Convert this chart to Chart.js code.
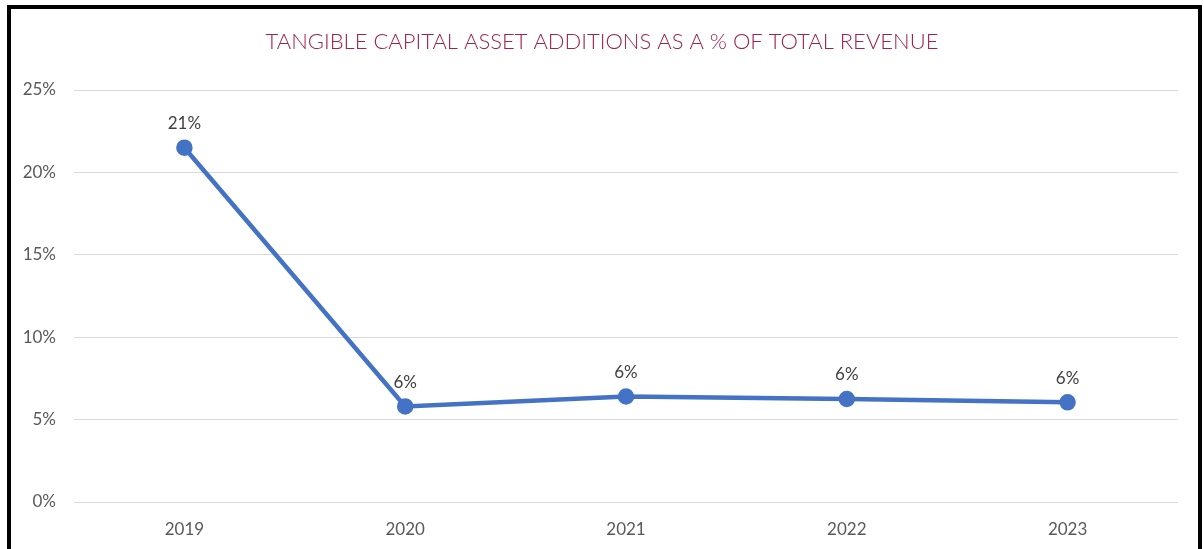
<!DOCTYPE html>
<html lang="en">
<head>
    <meta charset="UTF-8">
    <title>Tangible capital asset additions</title>
    <script src="https://cdn.jsdelivr.net/npm/chart.js"></script>
    <style>
        html, body { margin: 0; padding: 0; background: #fff; overflow: hidden; }
        #wrap { position: absolute; left: 0; top: 0; width: 1204px; height: 549px; }
        #frame {
            position: absolute; left: 7px; top: 5px; width: 1187px; height: 600px;
            border: 4px solid #000; pointer-events: none;
        }
    </style>
</head>
<body>
    <div id="wrap">
        <canvas id="chart" width="1204" height="549"></canvas>
        <div id="frame"></div>
    </div>

    <script>
        const chartTitle = 'TANGIBLE CAPITAL ASSET ADDITIONS AS A % OF TOTAL REVENUE';
        const years = ['2019', '2020', '2021', '2022', '2023'];
        const pctValues = [21.5, 5.8, 6.4, 6.25, 6.05];
        const pctLabels = ['21%', '6%', '6%', '6%', '6%'];

        // simple data label plugin (no external plugin available)
        const pointLabels = {
            id: 'pointLabels',
            afterDatasetsDraw(chart) {
                const ctx = chart.ctx;
                const meta = chart.getDatasetMeta(0);
                ctx.save();
                ctx.font = '17px Lato, "Open Sans", sans-serif';
                ctx.fillStyle = '#404040';
                ctx.textAlign = 'center';
                ctx.textBaseline = 'middle';
                meta.data.forEach((pt, i) => {
                    ctx.fillText(pctLabels[i], pt.x, pt.y - 24);
                });
                ctx.restore();
            }
        };

        // title centred on the whole page, not on the padded chart box
        const pageTitle = {
            id: 'pageTitle',
            afterDraw(chart) {
                const ctx = chart.ctx;
                ctx.save();
                ctx.font = '300 22px Lato, "Open Sans", sans-serif';
                ctx.fillStyle = '#A0234F';
                ctx.textAlign = 'center';
                ctx.textBaseline = 'middle';
                ctx.fillText(chartTitle, chart.width / 2, 42);
                ctx.restore();
            }
        };

        const ctx = document.getElementById('chart').getContext('2d');
        new Chart(ctx, {
            type: 'line',
            data: {
                labels: years,
                datasets: [{
                    data: pctValues,
                    borderColor: '#4472C4',
                    backgroundColor: '#4472C4',
                    borderWidth: 4.5,
                    pointRadius: 6,
                    pointHoverRadius: 6,
                    fill: false,
                    tension: 0
                }]
            },
            options: {
                responsive: false,
                animation: false,
                layout: { padding: { left: 0, right: 26, top: 90, bottom: 0 } },
                plugins: {
                    legend: { display: false },
                    tooltip: { enabled: false },
                    title: { display: false }
                },
                scales: {
                    x: {
                        offset: true,
                        grid: { display: false },
                        border: { display: false },
                        ticks: {
                            color: '#595959',
                            padding: 9,
                            font: { family: 'Lato, "Open Sans", sans-serif', size: 17 }
                        },
                        afterFit(scale) { scale.height = 47; }
                    },
                    y: {
                        min: 0,
                        max: 25,
                        grid: { color: '#d9d9d9', lineWidth: 1, drawTicks: false },
                        border: { display: false },
                        ticks: {
                            stepSize: 5,
                            color: '#595959',
                            padding: 18,
                            font: { family: 'Lato, "Open Sans", sans-serif', size: 17 },
                            callback: v => v + '%'
                        },
                        afterFit(scale) { scale.width = 74; }
                    }
                }
            },
            plugins: [pointLabels, pageTitle]
        });
    </script>
</body>
</html>
